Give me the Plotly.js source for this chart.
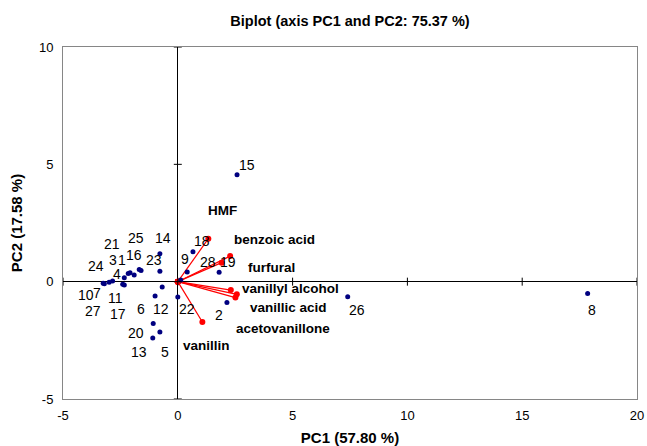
<!DOCTYPE html>
<html>
<head>
<meta charset="utf-8">
<script src="https://cdn.plot.ly/plotly-3.0.1.min.js"></script>
<style>
  html, body { margin: 0; padding: 0; background: #fff; }
  #chart { width: 647px; height: 446px; }
</style>
</head>
<body>
<div id="chart"></div>
<script>
// ---- Data ----
const obsLabels = ['1','2','3','4','5','6','7','8','9','10','11','12','13','14',
                   '15','16','17','18','19','20','21','22','23','24','25','26','27','28'];
const obsPC1 = [-2.08, 2.14, -2.16, -2.33, -0.78, -0.99, -2.84, 17.85, 0.41, -2.99,
                -2.40, -0.68, -1.09, -0.78, 2.58, -1.60, -2.33, 0.66, 1.80, -1.07,
                -1.90, 0.00, -0.78, -3.25, -1.68, 7.40, -3.20, 0.13];
const obsPC2 = [0.38, -0.89, 0.35, 0.17, -2.14, -0.61, 0.03, -0.50, 0.41, -0.02,
                -0.11, -0.23, -2.40, 1.19, 4.56, 0.48, -0.14, 1.27, 0.40, -1.78,
                0.28, -0.65, 0.44, -0.07, 0.52, -0.64, -0.09, 0.07];

const varNames = ['HMF', 'benzoic acid', 'furfural', 'vanillyl alcohol',
                  'vanillic acid', 'acetovanillone', 'vanillin'];
const varPC1 = [1.33, 2.28, 1.91, 2.31, 2.57, 2.51, 1.07];
const varPC2 = [1.83, 1.09, 0.81, -0.36, -0.54, -0.68, -1.72];

const xTicks = [-5, 0, 5, 10, 15, 20];
const yTicks = [-5, 0, 5, 10];

// ---- Label placement offsets (pixels: [right, up]) - styling only ----
const obsLabelOffsets = [
  [-8.5, 13], [-8.4, -12], [-15.5, 13], [-7, 4], [5, -20.6], [-14, -12.6],
  [-15.5, -11.8], [4.4, -17], [-2.3, 12.7], [-23.5, -13], [-7.7, -13.3], [-1.3, -22.3],
  [-13.4, -13.6], [2.7, 15.3], [10, 10], [-7.2, 15], [-6.6, -29.3], [8.7, 10.6],
  [9.3, 10.7], [-17.3, -9.7], [-22, 30.7], [9, -12.3], [-6, 11.3], [-7.5, 17.3],
  [-3.3, 31.5], [9.2, -13.4], [-11.2, -27.2], [27, 18.4]
];
const varLabelOffsets = [
  [14.4, 28.6], [44.3, 16.7], [50, -4.4], [60, 1.7], [51.6, -12.7], [48, -30.7], [3.7, -23.3]
];

const FONT = 'Liberation Sans, Arial, sans-serif';

// arrows from origin to variable coordinates
const arrowX = [], arrowY = [];
varPC1.forEach((v, i) => { arrowX.push(0, v, null); arrowY.push(0, varPC2[i], null); });

const traces = [
  {
    type: 'scatter', mode: 'lines+markers',
    x: arrowX, y: arrowY,
    line: { color: '#ff0000', width: 1.2 },
    marker: { color: '#ff0000', size: 6 },
    hoverinfo: 'skip', showlegend: false
  },
  {
    type: 'scatter', mode: 'markers',
    x: obsPC1, y: obsPC2, text: obsLabels,
    marker: { color: '#000080', size: 5 },
    showlegend: false
  }
];

const annotations = [];
obsLabels.forEach((t, i) => {
  annotations.push({
    x: obsPC1[i], y: obsPC2[i], xref: 'x', yref: 'y', text: t, showarrow: false,
    xshift: obsLabelOffsets[i][0], yshift: obsLabelOffsets[i][1],
    borderpad: 0,
    font: { family: FONT, size: 14, color: '#000' }
  });
});
varNames.forEach((t, i) => {
  annotations.push({
    x: varPC1[i], y: varPC2[i], xref: 'x', yref: 'y', text: '<b>' + t + '</b>', showarrow: false,
    xshift: varLabelOffsets[i][0], yshift: varLabelOffsets[i][1],
    borderpad: 0,
    font: { family: FONT, size: 13.5, color: '#000' }
  });
});

const shapes = [];
xTicks.forEach(t => shapes.push({
  type: 'line', xref: 'x', yref: 'y', x0: t, x1: t,
  ysizemode: 'pixel', yanchor: 0, y0: -4, y1: 4,
  line: { color: '#000', width: 1 }
}));
yTicks.forEach(t => shapes.push({
  type: 'line', xref: 'x', yref: 'y', y0: t, y1: t,
  xsizemode: 'pixel', xanchor: 0, x0: -4, x1: 4,
  line: { color: '#000', width: 1 }
}));

const layout = {
  width: 647, height: 446,
  margin: { l: 63, r: 10, t: 47, b: 47 },
  paper_bgcolor: '#fff', plot_bgcolor: '#fff',
  font: { family: FONT, size: 13, color: '#000' },
  title: {
    text: '<b>Biplot (axis PC1 and PC2: 75.37 %)</b>',
    font: { family: FONT, size: 14.5, color: '#000' },
    x: 0.541, xanchor: 'center', y: 0.953, yanchor: 'middle'
  },
  xaxis: {
    range: [-5, 20], tickvals: xTicks, ticktext: xTicks.map(String),
    showgrid: false, zeroline: true, zerolinecolor: '#000', zerolinewidth: 1,
    showline: true, mirror: true, linecolor: '#868686', linewidth: 1,
    ticks: '', ticklabelstandoff: 4,
    tickfont: { family: FONT, size: 13, color: '#000' },
    title: { text: '<b>PC1 (57.80 %)</b>', font: { family: FONT, size: 15, color: '#000' }, standoff: 11 }
  },
  yaxis: {
    range: [-5, 10], tickvals: yTicks, ticktext: yTicks.map(String),
    showgrid: false, zeroline: true, zerolinecolor: '#000', zerolinewidth: 1,
    showline: true, mirror: true, linecolor: '#868686', linewidth: 1,
    ticks: '', ticklabelstandoff: 6,
    tickfont: { family: FONT, size: 13, color: '#000' },
    title: { text: '<b>PC2 (17.58 %)</b>', font: { family: FONT, size: 15, color: '#000' }, standoff: 12 }
  },
  annotations: annotations,
  shapes: shapes
};

Plotly.newPlot('chart', traces, layout, { displayModeBar: false, staticPlot: true });
</script>
</body>
</html>
